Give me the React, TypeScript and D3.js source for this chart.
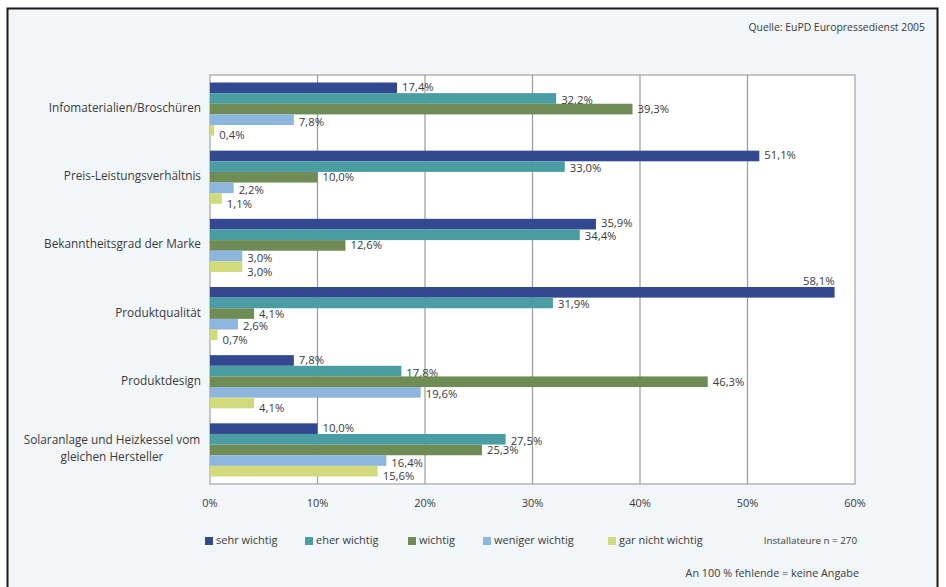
import React from "react";
import * as d3 from "d3";

const categories = [
  ["Infomaterialien/Broschüren"],
  ["Preis-Leistungsverhältnis"],
  ["Bekanntheitsgrad der Marke"],
  ["Produktqualität"],
  ["Produktdesign"],
  ["Solaranlage und Heizkessel vom", "gleichen Hersteller"],
];
const seriesNames = ["sehr wichtig", "eher wichtig", "wichtig", "weniger wichtig", "gar nicht wichtig"];
const sehrWichtig = [17.4, 51.1, 35.9, 58.1, 7.8, 10.0];
const eherWichtig = [32.2, 33.0, 34.4, 31.9, 17.8, 27.5];
const wichtig = [39.3, 10.0, 12.6, 4.1, 46.3, 25.3];
const wenigerWichtig = [7.8, 2.2, 3.0, 2.6, 19.6, 16.4];
const garNichtWichtig = [0.4, 1.1, 3.0, 0.7, 4.1, 15.6];
const seriesValues = [sehrWichtig, eherWichtig, wichtig, wenigerWichtig, garNichtWichtig];
const colors = ["#33498f", "#4a9ea3", "#6f8b56", "#8db6df", "#d3da7b"];
const xTicks = [0, 10, 20, 30, 40, 50, 60];

const W = 946;
const H = 587;
const plot = { left: 210, right: 855, top: 75, bottom: 484 };
const FONT = "'Open Sans', 'DejaVu Sans', sans-serif";
const textColor = "#3a3a3a";
const labelDrop = [0, 2.5, 1, 3, 6];

const fmt = (v: number) => d3.format(".1f")(v).replace(".", ",") + "%";

export default function App() {
  const x = d3.scaleLinear().domain([0, 60]).range([plot.left, plot.right]);
  const y0 = d3
    .scaleBand<number>()
    .domain(d3.range(categories.length))
    .range([plot.top, plot.bottom])
    .paddingInner(0.22)
    .paddingOuter(0.11);
  const y1 = d3.scaleBand<number>().domain(d3.range(seriesNames.length)).range([0, y0.bandwidth()]);

  const legendX = [205, 305, 408, 483, 608];

  return (
    <svg
      width={W}
      height={H}
      style={{ position: "absolute", left: 0, top: 0, fontFamily: FONT }}
    >
      <rect x={0} y={0} width={W} height={H} fill="#ffffff" />
      <rect x={7.5} y={8.5} width={930} height={600} fill="#f3f6f8" stroke="#1a1a1a" strokeWidth={2} />
      <text x={925} y={31} textAnchor="end" fontSize={10.4} fill={textColor}>
        Quelle: EuPD Europressedienst 2005
      </text>

      <rect
        x={plot.left}
        y={plot.top}
        width={plot.right - plot.left}
        height={plot.bottom - plot.top}
        fill="#ffffff"
        stroke="#b4b4b4"
        strokeWidth={1.5}
      />
      {xTicks.slice(1, -1).map((t) => (
        <line key={t} x1={x(t)} x2={x(t)} y1={plot.top} y2={plot.bottom} stroke="#9a9a9a" strokeWidth={1.2} />
      ))}

      {categories.map((lines, ci) => {
        const cy = (y0(ci) as number) + y0.bandwidth() / 2;
        const lh = 17;
        const startY = cy - ((lines.length - 1) * lh) / 2;
        const multi = lines.length > 1;
        return (
          <text
            key={ci}
            x={multi ? 112 : 201}
            textAnchor={multi ? "middle" : "end"}
            fontSize={11.8}
            fill={textColor}
            dominantBaseline="middle"
          >
            {lines.map((l, li) => (
              <tspan key={li} x={multi ? 112 : 201} y={startY + li * lh}>
                {l}
              </tspan>
            ))}
          </text>
        );
      })}

      {categories.map((_, ci) =>
        seriesValues.map((vals, si) => {
          const v = vals[ci];
          const by = (y0(ci) as number) + (y1(si) as number);
          const bh = y1.bandwidth();
          const xe = x(v);
          const overflow = xe + 40 > plot.right;
          return (
            <g key={`${ci}-${si}`}>
              <rect x={plot.left} y={by} width={xe - plot.left} height={bh} fill={colors[si]} />
              <text
                x={overflow ? xe : xe + 5}
                y={overflow ? by - 5 : by + bh / 2 + labelDrop[si]}
                textAnchor={overflow ? "end" : "start"}
                dominantBaseline="middle"
                fontSize={11.3}
                fill={textColor}
              >
                {fmt(v)}
              </text>
            </g>
          );
        })
      )}

      {xTicks.map((t) => (
        <text key={t} x={x(t)} y={504} textAnchor="middle" dominantBaseline="middle" fontSize={11} fill={textColor}>
          {t + "%"}
        </text>
      ))}

      {seriesNames.map((n, si) => (
        <g key={n}>
          <rect x={legendX[si]} y={537} width={8} height={8} fill={colors[si]} />
          <text x={legendX[si] + 11} y={541.5} dominantBaseline="middle" fontSize={11} fill={textColor}>
            {n}
          </text>
        </g>
      ))}
      <text x={857} y={541.5} textAnchor="end" dominantBaseline="middle" fontSize={9.8} fill={textColor}>
        Installateure n = 270
      </text>
      <text x={859} y={574} textAnchor="end" dominantBaseline="middle" fontSize={10.8} fill={textColor}>
        An 100 % fehlende = keine Angabe
      </text>
    </svg>
  );
}
